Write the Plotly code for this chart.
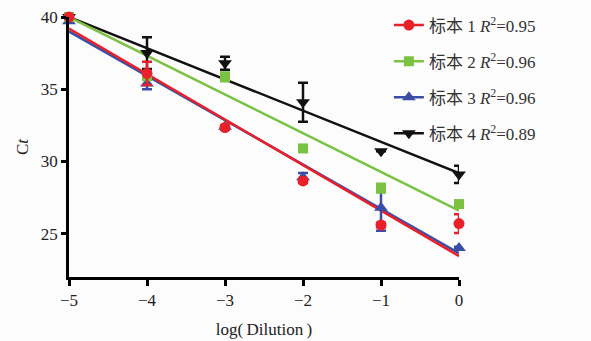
import plotly.graph_objects as go

x = [-5, -4, -3, -2, -1, 0]
names = ["标本 1 <i>R</i><sup>2</sup>=0.95", "标本 2 <i>R</i><sup>2</sup>=0.96",
         "标本 3 <i>R</i><sup>2</sup>=0.96", "标本 4 <i>R</i><sup>2</sup>=0.89"]
s1 = [40.0, 36.1, 32.35, 28.65, 25.6, 25.7]
s1_err = [0.0, 0.8, 0.15, 0.15, 0.15, 0.65]
s2 = [40.0, 35.9, 35.85, 30.9, 28.15, 27.05]
s2_err = [0.0, 0.15, 0.3, 0.1, 0.3, 0.1]
s3 = [39.7, 35.4, 32.4, 28.9, 26.8, 24.0]
s3_err = [0.1, 0.4, 0.1, 0.3, 1.6, 0.1]
s4 = [40.0, 37.5, 36.8, 34.1, 30.7, 29.1]
s4_err = [0.0, 1.1, 0.45, 1.35, 0.0, 0.6]

fit_x = [-5, 0]
fit1 = [39.2, 23.45]
fit2 = [40.0, 26.6]
fit3 = [39.0, 23.65]
fit4 = [40.0, 29.2]

colors = ["#e8202a", "#7cc242", "#3b4ea6", "#111111"]
symbols = ["circle", "square", "triangle-up", "triangle-down"]
sizes = [11, 10, 12, 12]
series = [s1, s2, s3, s4]
errs = [s1_err, s2_err, s3_err, s4_err]
fits = [fit1, fit2, fit3, fit4]

FONT = "'Liberation Serif', 'Times New Roman', 'Noto Sans CJK SC', serif"

fig = go.Figure()

# legend entries
for i in range(4):
    fig.add_trace(go.Scatter(
        x=[None], y=[None], mode="lines+markers", name=names[i],
        legendgroup=f"g{i}",
        line=dict(color=colors[i], width=2.5),
        marker=dict(color=colors[i], symbol=symbols[i], size=sizes[i]),
    ))

# fit lines
for i in [3, 1, 2, 0]:
    fig.add_trace(go.Scatter(
        x=fit_x, y=fits[i], mode="lines", showlegend=False,
        legendgroup=f"g{i}", hoverinfo="skip",
        line=dict(color=colors[i], width=2.5), cliponaxis=False,
    ))

# data points with error bars
for i in [3, 2, 1, 0]:
    fig.add_trace(go.Scatter(
        x=x, y=series[i], mode="markers", showlegend=False,
        legendgroup=f"g{i}",
        marker=dict(color=colors[i], symbol=symbols[i], size=sizes[i]),
        error_y=dict(type="data", array=errs[i], visible=True,
                     color=colors[i], thickness=2.5, width=5),
        cliponaxis=False,
    ))

fig.update_layout(
    width=591, height=341,
    margin=dict(l=69, r=132, t=17, b=64, autoexpand=False),
    paper_bgcolor="#fcfcfc", plot_bgcolor="#fcfcfc",
    font=dict(family=FONT, size=15, color="#222"),
    showlegend=True,
    legend=dict(xref="container", yref="container", x=0.658, y=0.978,
                xanchor="left", yanchor="top",
                bgcolor="rgba(0,0,0,0)", tracegroupgap=11,
                font=dict(family=FONT, size=17, color="#333")),
    xaxis=dict(range=[-5, 0], tickvals=x, showgrid=False, zeroline=False,
               showline=True, linecolor="black", linewidth=2.5,
               ticks="outside", ticklen=6, tickwidth=2.5, tickcolor="black",
               tickfont=dict(family=FONT, size=17, color="#222"),
               title=dict(text="log(\u2009Dilution\u2009)", standoff=14,
                          font=dict(family=FONT, size=17, color="#222"))),
    yaxis=dict(range=[22, 40], tickvals=[25, 30, 35, 40], showgrid=False,
               zeroline=False, showline=True, linecolor="black", linewidth=2.5,
               ticks="outside", ticklen=5, tickwidth=2.5, tickcolor="black",
               tickfont=dict(family=FONT, size=17, color="#222"),
               title=dict(text="C<i>t</i>", standoff=8,
                          font=dict(family=FONT, size=17, color="#222"))),
)

fig.write_html("out.html")
